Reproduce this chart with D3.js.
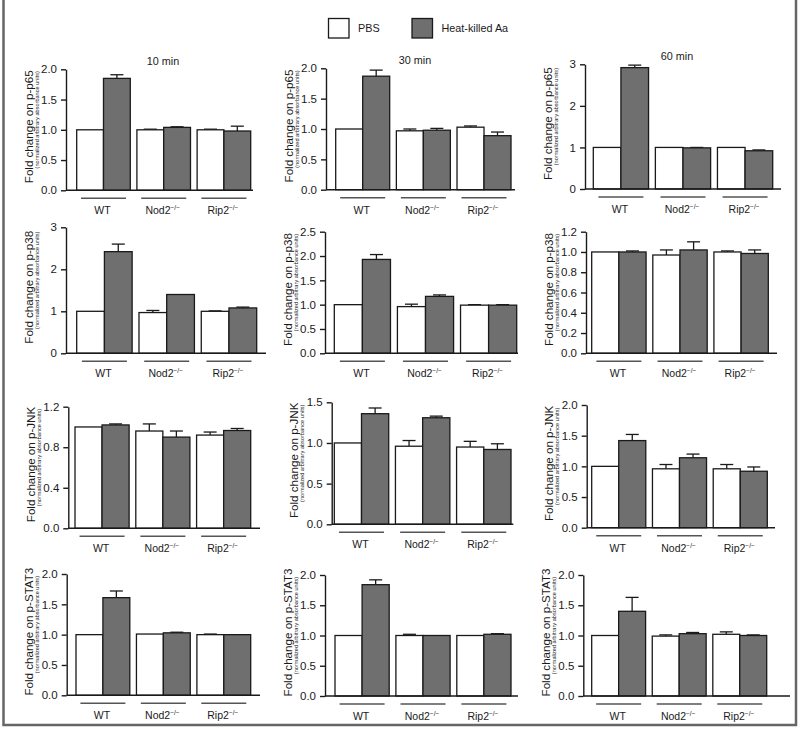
<!DOCTYPE html>
<html><head><meta charset="utf-8">
<script src="https://cdn.jsdelivr.net/npm/d3@7"></script>
<style>body{margin:0;background:#fff}svg{display:block;font-family:"Liberation Sans",Arial,sans-serif}</style>
</head><body>
<svg id="c" width="800" height="737"></svg>
<script>
// ---- data ----
const groups = ["WT", "Nod2", "Rip2"];
const seriesNames = ["PBS", "Heat-killed Aa"];
const proteins = ["p-p65", "p-p38", "p-JNK", "p-STAT3"];
const times = ["10 min", "30 min", "60 min"];
// per panel (row-major: p65 10/30/60, p38 10/30/60, JNK ..., STAT3 ...)
const pbsMean = [
  [1.00, 1.00, 1.00], [1.00, 0.97, 1.03], [1.00, 1.00, 1.00],
  [1.00, 0.97, 1.00], [1.00, 0.96, 0.99], [1.00, 0.97, 1.00],
  [1.00, 0.96, 0.92], [1.00, 0.96, 0.95], [1.00, 0.96, 0.96],
  [1.00, 1.01, 1.00], [1.00, 1.00, 1.00], [1.00, 0.99, 1.02]
];
const pbsErr = [
  [0, 0.01, 0.01], [0, 0.03, 0.02], [0, 0, 0],
  [0, 0.05, 0.01], [0, 0.05, 0.01], [0, 0.05, 0.01],
  [0, 0.07, 0.03], [0, 0.07, 0.07], [0, 0.07, 0.07],
  [0, 0, 0.01], [0, 0.02, 0], [0, 0.02, 0.04]
];
const hkMean = [
  [1.85, 1.04, 0.98], [1.87, 0.98, 0.89], [2.92, 0.99, 0.92],
  [2.42, 1.40, 1.08], [1.93, 1.17, 0.99], [1.00, 1.02, 0.985],
  [1.02, 0.90, 0.965], [1.36, 1.31, 0.92], [1.42, 1.14, 0.92],
  [1.61, 1.03, 1.00], [1.84, 1.00, 1.02], [1.40, 1.03, 1.00]
];
const hkErr = [
  [0.06, 0.01, 0.08], [0.10, 0.03, 0.06], [0.06, 0.01, 0.02],
  [0.18, 0, 0.02], [0.10, 0.03, 0.01], [0.01, 0.08, 0.035],
  [0.01, 0.06, 0.02], [0.07, 0.02, 0.07], [0.10, 0.06, 0.07],
  [0.11, 0.01, 0], [0.08, 0, 0.01], [0.23, 0.02, 0.01]
];
const yTicks = [
  [0, 0.5, 1.0, 1.5, 2.0], [0, 0.5, 1.0, 1.5, 2.0], [0, 1, 2, 3],
  [0, 1, 2, 3], [0, 0.5, 1.0, 1.5, 2.0, 2.5], [0, 0.2, 0.4, 0.6, 0.8, 1.0, 1.2],
  [0, 0.4, 0.8, 1.2], [0, 0.5, 1.0, 1.5], [0, 0.5, 1.0, 1.5, 2.0],
  [0, 0.5, 1.0, 1.5, 2.0], [0, 0.5, 1.0, 1.5, 2.0], [0, 0.5, 1.0, 1.5, 2.0]
];
const tickDecimals = [1, 1, 0, 0, 1, 1, 1, 1, 1, 1, 1, 1];

// ---- layout (pixels) : axisX, firstBarX, lastBarX, axisEnd, yTop, yBottom ----
const layout = [
  [66, 76.7, 250.7, 253, 69.3, 190.3], [326, 335.7, 511, 515, 68.3, 189.7], [585, 593.3, 772.7, 781, 64.3, 189],
  [66, 76.7, 256.7, 266, 227.3, 353.3], [325, 334.3, 516.7, 518, 231.7, 353.3], [586, 591.7, 768.3, 777, 231.7, 353.3],
  [68.3, 75, 250.7, 260, 406.7, 528.3], [331.7, 334.3, 511, 513.3, 402.3, 524.3], [586.7, 591.7, 767.3, 775, 405, 527.7],
  [66.7, 76, 250.7, 260, 574, 695.3], [325, 335, 511, 518, 575, 696], [583.3, 591.7, 766.7, 790, 575, 696]
];

const svg = d3.select("#c");
const ink = "#1a1a1a";
const hkFill = "#6f6f6f";
const color = d3.scaleOrdinal().domain(seriesNames).range(["#ffffff", hkFill]);

// frame
svg.append("path").attr("d", "M3.5,0 V725 H796 V0").attr("fill", "none").attr("stroke", "#666").attr("stroke-width", 2.5);

// legend
const leg = svg.append("g");
const legX = [328.5, 412];
seriesNames.forEach((s, i) => {
  leg.append("rect").attr("x", legX[i]).attr("y", 18.5).attr("width", 20.5).attr("height", 19.5)
    .attr("fill", color(s)).attr("stroke", ink).attr("stroke-width", 1.3);
  leg.append("text").attr("x", legX[i] + 29.5).attr("y", 32).attr("font-size", 10.8).attr("fill", ink).text(s);
});

layout.forEach((L, p) => {
  const [ax, bx0, bx1, axEnd, yTop, yBot] = L;
  const row = Math.floor(p / 3), col = p % 3;
  const ticks = yTicks[p];
  const y = d3.scaleLinear().domain([0, ticks[ticks.length - 1]]).range([yBot, yTop]);
  const x = d3.scaleBand().domain(groups).range([bx0, bx1]).paddingInner(0.11).paddingOuter(0);
  const xs = d3.scaleBand().domain(seriesNames).range([0, x.bandwidth()]).padding(0);
  const g = svg.append("g");

  // bars & error bars
  groups.forEach((gr, gi) => {
    const vals = [[pbsMean[p][gi], pbsErr[p][gi]], [hkMean[p][gi], hkErr[p][gi]]];
    seriesNames.forEach((s, si) => {
      const [m, e] = vals[si];
      const bx = x(gr) + xs(s), bw = xs.bandwidth();
      if (e > 0) {
        const cx = bx + bw / 2;
        g.append("line").attr("x1", cx).attr("x2", cx).attr("y1", y(m)).attr("y2", y(m + e))
          .attr("stroke", ink).attr("stroke-width", 1.3);
        g.append("line").attr("x1", cx - 6.5).attr("x2", cx + 6.5).attr("y1", y(m + e)).attr("y2", y(m + e))
          .attr("stroke", ink).attr("stroke-width", 1.3);
      }
      g.append("rect").attr("x", bx).attr("y", y(m)).attr("width", bw).attr("height", y(0) - y(m))
        .attr("fill", color(s)).attr("stroke", ink).attr("stroke-width", 1.3);
    });
    // group underline
    const cx = x(gr) + x.bandwidth() / 2;
    g.append("line").attr("x1", cx - 22.5).attr("x2", cx + 22.5).attr("y1", yBot + 8).attr("y2", yBot + 8)
      .attr("stroke", "#555").attr("stroke-width", 1.4);
    const t = g.append("text").attr("x", cx - 1).attr("y", yBot + 24).attr("text-anchor", "middle")
      .attr("font-size", 10.5).attr("fill", ink);
    t.append("tspan").text(gr);
    if (gr !== "WT") t.append("tspan").attr("dy", -4).attr("font-size", 6.5).text("\u2212/\u2212");
  });

  // y axis
  const fmt = d3.format("." + tickDecimals[p] + "f");
  const ya = g.append("g").attr("transform", `translate(${ax},0)`)
    .call(d3.axisLeft(y).tickValues(ticks).tickFormat(fmt).tickSize(5).tickPadding(4).tickSizeOuter(0));
  ya.select(".domain").attr("stroke", ink).attr("stroke-width", 1.4);
  ya.selectAll(".tick line").attr("stroke", ink).attr("stroke-width", 1.4);
  ya.selectAll(".tick text").attr("font-size", 11.5).attr("fill", ink).attr("font-family", "Liberation Sans, Arial, sans-serif");
  // x axis baseline
  g.append("line").attr("x1", ax).attr("x2", axEnd).attr("y1", yBot).attr("y2", yBot)
    .attr("stroke", ink).attr("stroke-width", 1.4);

  // y label
  const cy = (yTop + yBot) / 2;
  g.append("text").attr("transform", `translate(${ax - 38},${cy - 3}) rotate(-90)`).attr("text-anchor", "middle")
    .attr("dominant-baseline", "central").attr("font-size", 11.6).attr("fill", ink)
    .text("Fold change on " + proteins[row]);
  g.append("text").attr("transform", `translate(${ax - 29.5},${cy - 10}) rotate(-90)`).attr("text-anchor", "middle")
    .attr("dominant-baseline", "central").attr("font-size", 5.6).attr("fill", ink)
    .text("(normalized arbitrary absorbance units)");

  // title
  if (row === 0) {
    const titleX = [163, 415, 677][col];
    g.append("text").attr("x", titleX).attr("y", yTop - 4).attr("text-anchor", "middle")
      .attr("font-size", 10.8).attr("fill", ink).text(times[col]);
  }
});
</script>
</body></html>
